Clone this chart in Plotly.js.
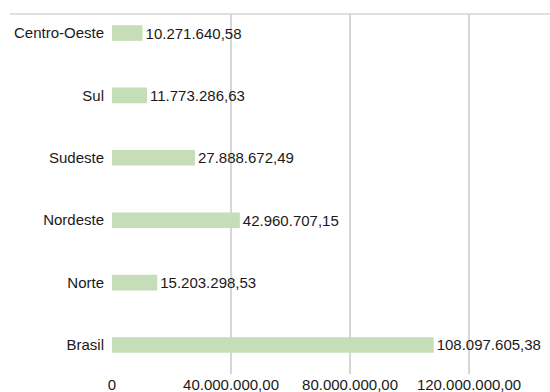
<!DOCTYPE html>
<html>
<head>
<meta charset="utf-8">
<script src="https://cdn.plot.ly/plotly-3.0.1.min.js"></script>
<style>html,body{margin:0;padding:0;background:#fff;}#chart{width:550px;height:392px;}</style>
</head>
<body>
<div id="chart"></div>
<script>
// Data (top-to-bottom order in the picture: Centro-Oeste ... Brasil)
var regions = ["Brasil", "Norte", "Nordeste", "Sudeste", "Sul", "Centro-Oeste"];
var values = [108097605.38, 15203298.53, 42960707.15, 27888672.49, 11773286.63, 10271640.58];
var tickValues = [0, 40000000, 80000000, 120000000];
var tickLabels = ["0", "40.000.000,00", "80.000.000,00", "120.000.000,00"];

function fmtBR(v) {
  var s = v.toFixed(2);
  var parts = s.split(".");
  var intPart = parts[0].replace(/\B(?=(\d{3})+(?!\d))/g, ".");
  return intPart + "," + parts[1];
}

var trace = {
  type: "bar",
  orientation: "h",
  y: regions,
  x: values,
  width: 0.25,
  marker: { color: "#c6deb8", line: { width: 0 } },
  text: values.map(fmtBR),
  textposition: "outside",
  constraintext: "none",
  cliponaxis: false,
  textfont: { family: "Liberation Sans, Arial, sans-serif", size: 15, color: "#1a1a1a" },
  hoverinfo: "none"
};

var layout = {
  width: 550,
  height: 392,
  margin: { l: 112, r: 0, t: 14, b: 18, pad: 0 },
  paper_bgcolor: "#fff",
  plot_bgcolor: "#fff",
  showlegend: false,
  font: { family: "Liberation Sans, Arial, sans-serif", size: 15, color: "#1a1a1a" },
  xaxis: {
    range: [0, 147200000],
    tickmode: "array",
    tickvals: tickValues,
    ticktext: tickLabels,
    showgrid: true,
    gridcolor: "#d6d6d6",
    gridwidth: 1.5,
    zeroline: false,
    showline: false,
    ticks: "",
    ticklabelstandoff: 0,
    automargin: false,
    fixedrange: true,
    tickfont: { size: 15, color: "#1a1a1a" }
  },
  yaxis: {
    type: "category",
    categoryorder: "array",
    categoryarray: regions,
    range: [-0.465, 5.305],
    showgrid: false,
    zeroline: false,
    showline: false,
    ticks: "",
    ticklabelstandoff: 7,
    automargin: false,
    fixedrange: true,
    tickfont: { size: 15, color: "#1a1a1a" }
  },
  shapes: [{
    type: "line", xref: "paper", yref: "paper",
    x0: -0.2329, x1: 1, y0: 1, y1: 1,
    line: { color: "#d6d6d6", width: 1.5 }
  }]
};

Plotly.newPlot("chart", [trace], layout, { staticPlot: true, displayModeBar: false });
</script>
</body>
</html>
